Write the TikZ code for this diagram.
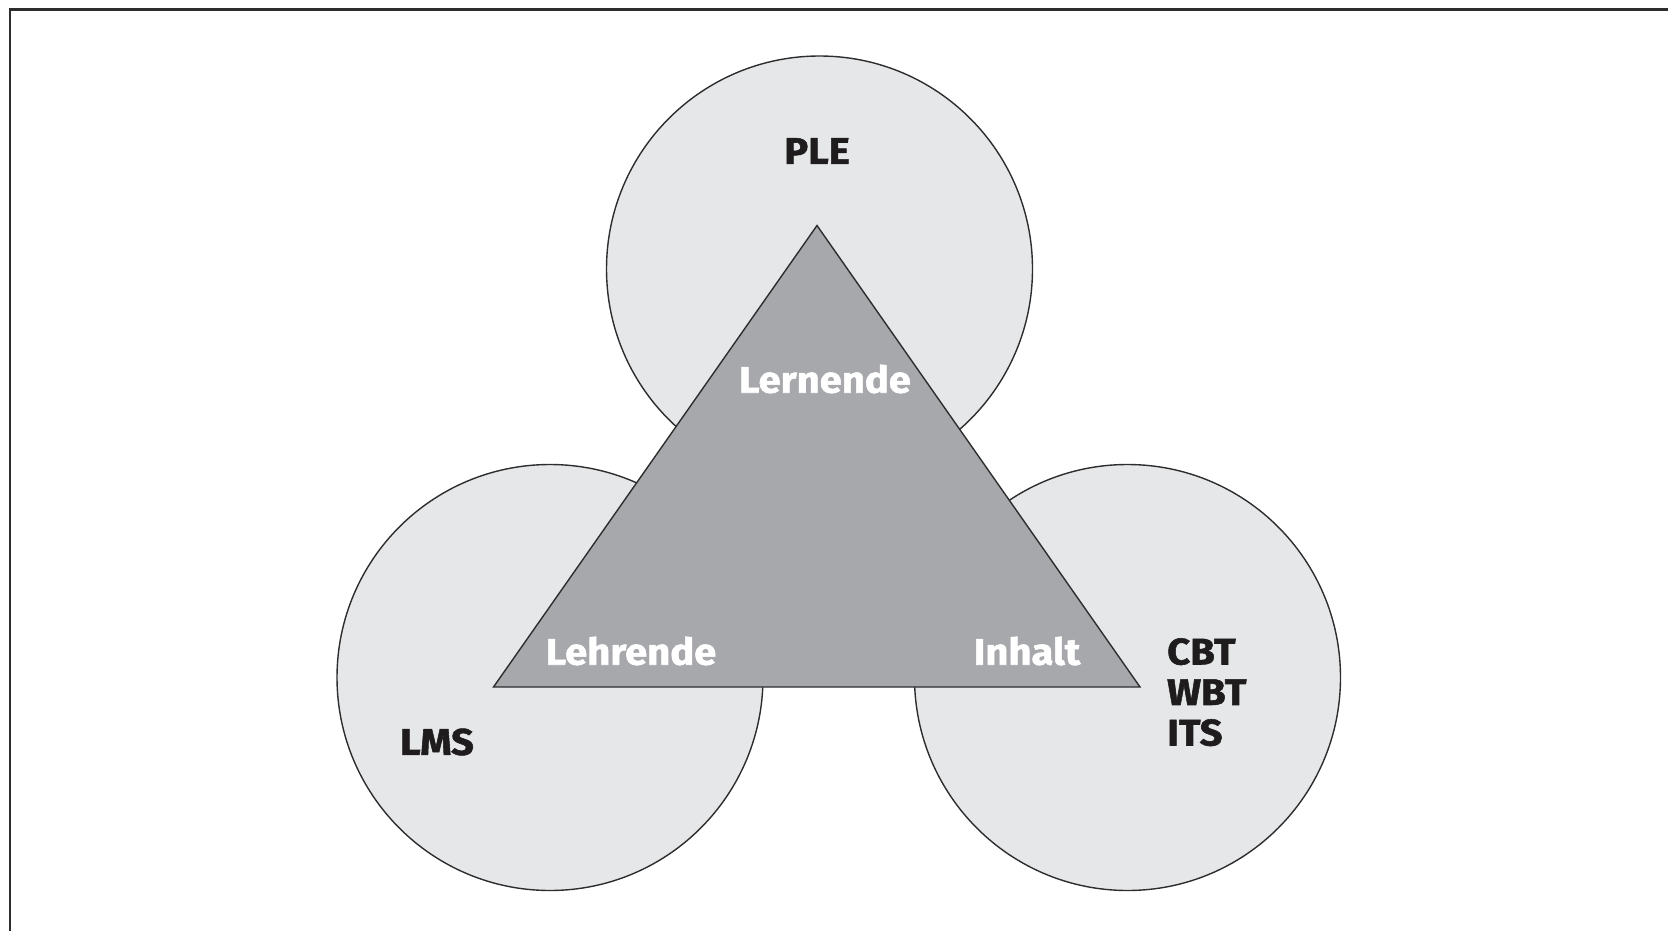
\documentclass[tikz,border=0pt]{standalone}
\usepackage{fontspec}
\setmainfont{Fira Sans}
% heavier, slightly wider bold face for the labels
\newfontfamily\lblfam{Fira Sans}[BoldFeatures={FakeBold=1.5,FakeStretch=1.08}]
\definecolor{zonegray}{RGB}{230,231,233}
\definecolor{coregray}{RGB}{167,168,172}
\definecolor{edgegray}{RGB}{45,45,45}
\definecolor{labelblack}{RGB}{30,28,28}
\newcommand\lblfont{\lblfam\fontsize{37}{40.5}\selectfont\bfseries}
\begin{document}
\begin{tikzpicture}[x=1pt,y=-1pt,
  zone/.style={circle, draw=edgegray, line width=1.4pt, fill=zonegray,
    minimum size=426pt, inner sep=0pt},
  corner/.style={font=\lblfont, text=white, inner sep=0pt},
  tool/.style={font=\lblfont, text=labelblack, inner sep=0pt},
]
\useasboundingbox (0,0) rectangle (1668,931);

% frame along the top and left edge
\draw[line width=2.4pt, edgegray] (10,931) -- (10,9.5) -- (1668,9.5);

% the three system circles
\node[zone] (ple) at (819.5,269) {};
\node[zone] (lms) at (550,677.5) {};
\node[zone] (cbt) at (1127.5,677.5) {};

% didactic triangle
\coordinate (top) at (817,225.5);
\coordinate (left) at (493.5,687);
\coordinate (right) at (1140,687);
\draw[fill=coregray, draw=edgegray, line width=1.4pt, line join=miter]
  (top) -- (right) -- (left) -- cycle;

% corner labels
\node[corner] (lernende) at (825,379) {Lernende};
\node[corner] (lehrende) at (631,651) {Lehrende};
\node[corner] (inhalt) at (1027,651) {Inhalt};

% system labels
\node[tool] (plelabel) at (817,151) {PLE};
\node[tool] (lmslabel) at (437,742) {LMS};
\node[tool, anchor=north west, align=left] (cbtlabel) at (1167,638)
  {CBT\\WBT\\ITS};
\end{tikzpicture}
\end{document}
